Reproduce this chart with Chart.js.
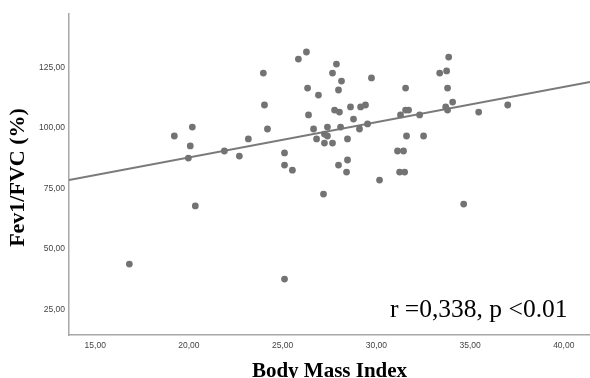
<!DOCTYPE html>
<html>
<head>
<meta charset="utf-8">
<script src="https://cdn.jsdelivr.net/npm/chart.js@4.4.0/dist/chart.umd.min.js"></script>
<style>
  html, body { margin: 0; padding: 0; background: #fff; }
  #wrap { width: 590px; height: 378px; }
</style>
</head>
<body>
<div id="wrap"><canvas id="chart" width="590" height="378"></canvas></div>
<script>
// Body Mass Index (x) vs Fev1/FVC % (y)
const bmi = [25.84, 23.97, 24.03, 19.22, 20.18, 20.07, 19.97, 21.89, 22.69, 23.17,
  24.19, 25.10, 25.10, 25.52, 26.27, 27.87, 27.66, 28.14, 29.74, 26.33,
  27.98, 26.91, 26.38, 27.77, 28.03, 28.62, 29.16, 29.42, 28.78, 26.65,
  27.39, 28.09, 29.10, 29.53, 26.81, 27.23, 27.39, 27.23, 27.66, 28.46,
  27.98, 28.46, 28.41, 30.17, 31.56, 31.29, 31.56, 31.72, 32.31, 31.61,
  32.52, 31.13, 31.45, 31.24, 31.51, 33.86, 33.38, 33.75, 33.80, 34.07,
  33.70, 33.80, 35.46, 37.01, 20.34, 16.82, 25.10, 27.18, 34.66];
const fev = [128.5, 122.7, 109.5, 96.7, 100.4, 92.6, 87.6, 90.5, 88.4, 95.5,
  99.6, 89.7, 84.7, 82.6, 131.4, 126.4, 122.7, 119.4, 120.7, 116.5,
  115.7, 113.6, 105.4, 107.4, 106.6, 108.7, 108.7, 109.5, 103.7, 99.6,
  100.4, 100.4, 99.6, 101.7, 95.5, 97.5, 96.7, 93.8, 93.8, 95.5,
  84.7, 86.8, 81.8, 78.5, 116.5, 105.4, 107.4, 107.4, 105.4, 96.7,
  96.7, 90.5, 90.5, 81.8, 81.8, 129.3, 122.7, 123.6, 116.5, 110.7,
  108.7, 107.4, 106.6, 109.5, 67.8, 43.8, 37.6, 72.7, 68.6];

// fit line ends as seen in the picture
const fitX = [13.6, 41.4];
const fitY = [78.5, 119.0];

const xTicks = [15, 20, 25, 30, 35, 40];
const yTicks = [25, 50, 75, 100, 125];

const xTitle = "Body Mass Index";
const yTitle = "Fev1/FVC (%)";
const statText = "r =0,338, p <0.01";

const points = bmi.map((x, i) => ({ x: x, y: fev[i] }));
const fit = fitX.map((x, i) => ({ x: x, y: fitY[i] }));

const fmt = v => v.toFixed(2).replace(".", ",");

// titles and the r/p note
const textPlugin = {
  id: "texts",
  afterDraw(chart) {
    const ctx = chart.ctx;
    const area = chart.chartArea;
    ctx.save();
    ctx.fillStyle = "#000";
    ctx.font = "bold 21px 'Liberation Serif', serif";
    ctx.textAlign = "center";
    ctx.textBaseline = "alphabetic";
    ctx.fillText(xTitle, (area.left + area.right) / 2, 377);

    ctx.translate(24, (area.top + area.bottom) / 2 + 3);
    ctx.rotate(-Math.PI / 2);
    ctx.font = "bold 22px 'Liberation Serif', serif";
    ctx.fillText(yTitle, 0, 0);
    ctx.restore();

    ctx.save();
    ctx.fillStyle = "#000";
    ctx.font = "25.5px 'Liberation Serif', serif";
    ctx.textAlign = "left";
    ctx.fillText(statText, 390, 317);
    ctx.restore();
  }
};

new Chart(document.getElementById("chart"), {
  type: "scatter",
  data: {
    datasets: [
      {
        data: points,
        pointRadius: 3.4,
        pointBackgroundColor: "#737373",
        pointBorderWidth: 0,
        order: 1
      },
      {
        type: "line",
        data: fit,
        borderColor: "#7a7a7a",
        borderWidth: 2,
        pointRadius: 0,
        showLine: true,
        fill: false,
        order: 2
      }
    ]
  },
  options: {
    responsive: false,
    animation: false,
    events: [],
    layout: { autoPadding: false, padding: { top: 14, right: 0, left: 0, bottom: 0 } },
    plugins: {
      legend: { display: false },
      tooltip: { enabled: false }
    },
    scales: {
      x: {
        type: "linear",
        min: 13.6,
        max: 41.4,
        grid: { display: false, drawTicks: false },
        border: { display: true, color: "#a8a8a8", width: 1.5 },
        afterBuildTicks: s => { s.ticks = xTicks.map(v => ({ value: v })); },
        afterFit: s => { s.height = 43; s.paddingLeft = 0; s.paddingRight = 0; },
        ticks: {
          padding: 6,
          color: "#444",
          font: { family: "'Liberation Sans', Arial", size: 8.5 },
          callback: v => fmt(v)
        }
      },
      y: {
        min: 14.5,
        max: 147.1,
        grid: { display: false, drawTicks: false },
        border: { display: true, color: "#a8a8a8", width: 1.5 },
        afterBuildTicks: s => { s.ticks = yTicks.map(v => ({ value: v })); },
        afterFit: s => { s.width = 69; s.paddingTop = 0; s.paddingBottom = 0; },
        ticks: {
          padding: 4,
          color: "#444",
          font: { family: "'Liberation Sans', Arial", size: 8.5 },
          callback: v => fmt(v)
        }
      }
    }
  },
  plugins: [textPlugin]
});
</script>
</body>
</html>
